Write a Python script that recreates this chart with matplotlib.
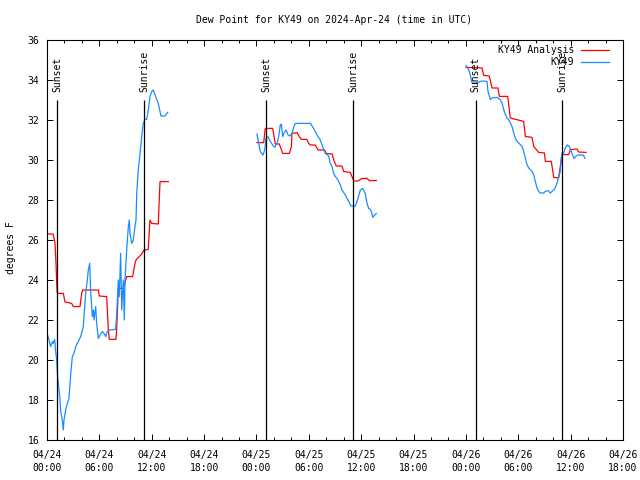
import numpy as np
import matplotlib
matplotlib.use('Agg')
import matplotlib.pyplot as plt

plt.rcParams['font.family'] = ['DejaVu Sans Mono']
plt.rcParams['font.size'] = 7

# time is hours after 2024-04-24 00:00 UTC, values are dew point in F
red_day1 = [(0, 26.3), (0.7, 26.3), (0.92, 25.85), (1.03, 24.85), (1.11, 23.85), (1.18, 23.33),
            (1.87, 23.33), (2.06, 22.9), (2.83, 22.83), (3.01, 22.67), (3.78, 22.67), (3.97, 23.33),
            (4.09, 23.5), (5.88, 23.5), (6.0, 23.2), (6.84, 23.17), (7.02, 21.58), (7.14, 21.03),
            (7.9, 21.03), (7.98, 21.5), (8.17, 23.58), (8.74, 23.58), (9.13, 24.17), (9.81, 24.17),
            (10.08, 24.83), (10.2, 25.0), (10.85, 25.3), (11.11, 25.5), (11.6, 25.53), (11.8, 27.0),
            (11.99, 26.83), (12.75, 26.8), (12.95, 28.92), (13.9, 28.92)]
red_day2 = [(24.06, 30.87), (24.83, 30.87), (25.01, 31.58), (25.86, 31.58), (26.16, 30.8), (26.62, 30.8),
            (27.01, 30.33), (27.77, 30.33), (28.0, 30.67), (28.07, 31.33), (28.65, 31.37), (28.91, 31.17),
            (29.14, 31.03), (29.79, 31.03), (29.98, 30.83), (30.17, 30.75), (30.74, 30.75), (31.05, 30.5),
            (31.82, 30.5), (31.97, 30.33), (32.66, 30.3), (32.92, 29.92), (33.15, 29.7), (33.8, 29.7),
            (34.0, 29.42), (34.75, 29.38), (34.95, 29.17), (35.14, 28.95), (35.64, 28.95), (36.09, 29.08),
            (36.67, 29.08), (36.93, 28.97), (37.73, 28.97)]
red_day3 = [(48.01, 34.63), (49.84, 34.6), (50.04, 34.23), (50.67, 34.2), (50.99, 33.6), (51.68, 33.6),
            (51.83, 33.18), (52.79, 33.18), (53.09, 32.1), (54.62, 31.93), (54.81, 31.18), (55.57, 31.13),
            (55.77, 30.68), (56.34, 30.38), (57.0, 30.35), (57.1, 29.93), (57.79, 29.93), (58.06, 29.13),
            (58.63, 29.1), (59.01, 30.27), (59.78, 30.27), (59.96, 30.52), (60.73, 30.55), (60.92, 30.4),
            (61.77, 30.38)]

blue_day1 = [(0.11, 21.2), (0.42, 20.67), (0.61, 20.92), (0.72, 20.83), (0.88, 21.03), (1.0, 20.4),
             (1.11, 20.0), (1.18, 19.42), (1.29, 18.83), (1.46, 18.17), (1.57, 17.42), (1.75, 17.0),
             (1.87, 16.5), (1.95, 17.0), (2.14, 17.5), (2.33, 17.83), (2.52, 18.08), (2.72, 19.33),
             (2.9, 20.17), (3.09, 20.33), (3.29, 20.67), (3.47, 20.83), (3.86, 21.17), (4.16, 21.67),
             (4.24, 22.17), (4.43, 23.33), (4.62, 24.0), (4.73, 24.5), (4.89, 24.83), (5.0, 23.5),
             (5.19, 22.17), (5.31, 22.5), (5.39, 22.0), (5.58, 22.67), (5.69, 21.83), (5.88, 21.08),
             (6.07, 21.25), (6.34, 21.42), (6.53, 21.33), (6.73, 21.17), (6.91, 21.42), (7.1, 21.5),
             (7.87, 21.53), (7.99, 22.33), (8.17, 24.0), (8.28, 23.17), (8.44, 25.33), (8.56, 22.5),
             (8.74, 24.0), (8.86, 22.0), (8.94, 24.0), (9.13, 25.5), (9.32, 26.67), (9.43, 27.0),
             (9.51, 26.33), (9.71, 25.83), (9.89, 26.0), (10.08, 26.67), (10.2, 27.0), (10.28, 28.33),
             (10.46, 29.5), (10.66, 30.33), (10.85, 31.17), (11.03, 31.83), (11.23, 32.03), (11.42, 32.03),
             (11.61, 32.5), (11.8, 33.17), (12.0, 33.42), (12.18, 33.5), (12.38, 33.25), (12.75, 32.83),
             (13.06, 32.2), (13.52, 32.2), (13.83, 32.38)]
blue_day2 = [(24.06, 31.3), (24.26, 30.83), (24.44, 30.42), (24.75, 30.25), (24.95, 30.5), (25.09, 31.08),
             (25.32, 31.17), (25.59, 30.92), (25.86, 30.75), (26.09, 30.63), (26.36, 30.83), (26.55, 31.17),
             (26.73, 31.75), (26.85, 31.8), (27.01, 31.17), (27.19, 31.37), (27.39, 31.5), (27.62, 31.25),
             (27.81, 31.2), (28.07, 31.33), (28.38, 31.8), (28.53, 31.83), (30.17, 31.83), (30.56, 31.58),
             (30.94, 31.25), (31.32, 31.0), (31.51, 30.75), (31.89, 30.33), (32.28, 30.2), (32.46, 29.83),
             (32.66, 29.67), (32.85, 29.33), (33.04, 29.17), (33.34, 29.0), (33.61, 28.75), (33.8, 28.5),
             (34.18, 28.25), (34.57, 27.92), (34.83, 27.7), (35.33, 27.7), (35.64, 28.08), (35.9, 28.5),
             (36.17, 28.58), (36.47, 28.33), (36.67, 27.83), (36.86, 27.58), (37.05, 27.53), (37.24, 27.33),
             (37.32, 27.13), (37.55, 27.25), (37.73, 27.33)]
blue_day3 = [(48.01, 34.73), (48.32, 34.52), (48.5, 34.27), (48.7, 33.85), (49.08, 33.85), (49.47, 33.9),
             (49.84, 33.95), (50.42, 33.93), (50.53, 33.43), (50.8, 33.02), (50.99, 33.1), (51.56, 33.13),
             (51.94, 33.02), (52.14, 32.85), (52.33, 32.52), (52.52, 32.27), (52.71, 32.1), (52.9, 32.02),
             (53.09, 31.85), (53.28, 31.68), (53.48, 31.35), (53.66, 31.1), (53.86, 30.93), (54.05, 30.85),
             (54.23, 30.77), (54.43, 30.68), (54.62, 30.43), (54.81, 30.1), (55.0, 29.77), (55.2, 29.6),
             (55.38, 29.52), (55.57, 29.43), (55.77, 29.27), (55.95, 28.93), (56.15, 28.6), (56.34, 28.43),
             (56.52, 28.35), (56.91, 28.35), (57.1, 28.43), (57.41, 28.47), (57.67, 28.35), (57.87, 28.43),
             (58.17, 28.55), (58.44, 28.85), (58.63, 29.18), (58.82, 29.43), (58.93, 30.1), (59.01, 30.35),
             (59.2, 30.35), (59.39, 30.6), (59.62, 30.75), (59.85, 30.67), (60.12, 30.37), (60.39, 30.08),
             (60.62, 30.2), (60.85, 30.25), (61.45, 30.25), (61.65, 30.08)]

sun_hours = [1.2, 11.15, 25.15, 35.1, 49.1, 59.05]
sun_labels = ['Sunset', 'Sunrise', 'Sunset', 'Sunrise', 'Sunset', 'Sunrise']

tick_hours = list(range(0, 67, 6))
tick_labels = ['04/24\n00:00', '04/24\n06:00', '04/24\n12:00', '04/24\n18:00',
               '04/25\n00:00', '04/25\n06:00', '04/25\n12:00', '04/25\n18:00',
               '04/26\n00:00', '04/26\n06:00', '04/26\n12:00', '04/26\n18:00']

red = '#ff0000'
blue = '#1a8cff'

fig = plt.figure(figsize=(6.4, 4.8), dpi=100)
ax = fig.add_axes([47 / 640, 40 / 480, 576 / 640, 400 / 480])

for seg in [red_day1, red_day2, red_day3]:
    t, v = zip(*seg)
    ax.plot(t, v, color=red, lw=0.9, zorder=2)
for seg in [blue_day1, blue_day2, blue_day3]:
    t, v = zip(*seg)
    ax.plot(t, v, color=blue, lw=0.9, zorder=2)

ax.vlines(sun_hours, 16, 33, color='black', lw=0.9, zorder=3)
for t, s in zip(sun_hours, sun_labels):
    ax.text(t, 33.4, s, rotation=90, ha='center', va='bottom', zorder=4)

ax.set_xlim(0, 66)
ax.set_ylim(16, 36)
ax.set_xticks(tick_hours)
ax.set_xticklabels(tick_labels, linespacing=1.45)
ax.set_xticks(np.arange(0, 67, 2), minor=True)
ax.set_yticks(range(16, 37, 2))
ax.tick_params(which='both', direction='in', top=True, right=True, width=0.7)
ax.tick_params(which='major', length=4.5)
ax.tick_params(which='minor', length=2.2)
ax.tick_params(axis='x', pad=7)
ax.tick_params(axis='y', pad=5.5)
for sp in ax.spines.values():
    sp.set_linewidth(0.8)

# legend, gnuplot style: text right aligned, sample to the right
for i, (lbl, c) in enumerate([('KY49 Analysis', red), ('KY49', blue)]):
    y = 0.976 - i * 0.032
    ax.text(0.915, y, lbl, transform=ax.transAxes, ha='right', va='center')
    ax.plot([0.927, 0.976], [y, y], transform=ax.transAxes, color=c, lw=0.9, clip_on=False)

fig.text(0.522, 0.958, 'Dew Point for KY49 on 2024-Apr-24 (time in UTC)', ha='center', va='center')
fig.text(0.017, 0.485, 'degrees F', rotation=90, ha='center', va='center')

fig.savefig('out.png', dpi=100)
